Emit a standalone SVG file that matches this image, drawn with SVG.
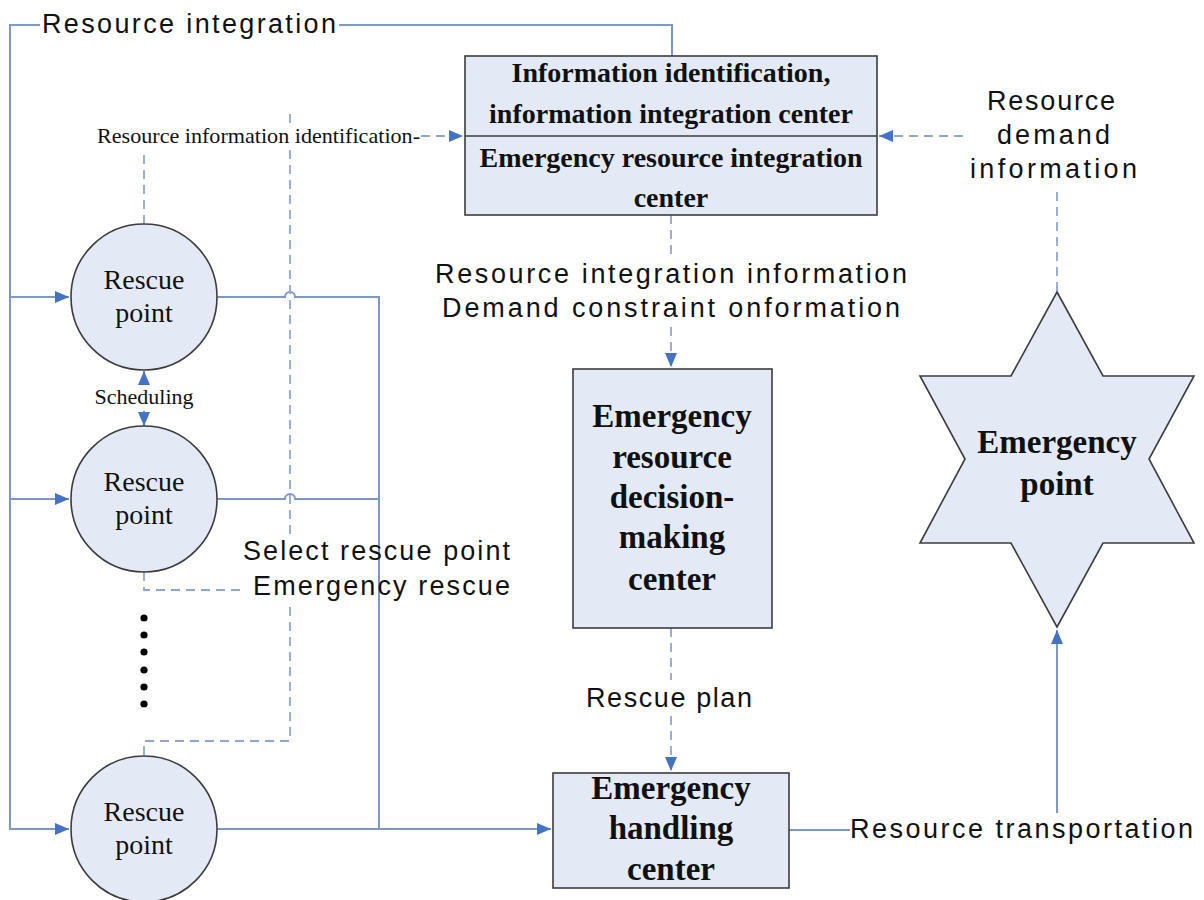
<svg xmlns="http://www.w3.org/2000/svg" width="1204" height="900" viewBox="0 0 1204 900">
<style>
.node{fill:#e4eaf5;stroke:#3c3c3c;stroke-width:1.6}
.serif{font-family:"Liberation Serif","Times New Roman",serif;fill:#111}
.bold{font-weight:bold;font-size:33px;text-anchor:middle}
.bt{font-weight:bold;font-size:28px;text-anchor:middle}
.rp{font-size:28px;text-anchor:middle}
.sm{font-size:22px}
.sans{font-family:"Liberation Sans",Arial,sans-serif;font-size:27px;fill:#111}
.solid{fill:none;stroke:#7d97c9;stroke-width:2}
.dash{fill:none;stroke:#8ea6d4;stroke-width:1.8;stroke-dasharray:9 6}
</style>
<defs>
<marker id="ah" markerUnits="userSpaceOnUse" markerWidth="16" markerHeight="14" refX="14" refY="6" orient="auto">
<path d="M0,0 L14,6 L0,12 Z" fill="#4472c4"/>
</marker>
</defs>
<rect width="1204" height="900" fill="#ffffff"/>

<g id="connectors">
<path class="solid" d="M672,56 V25 H339"/>
<path class="solid" d="M40,25 H10 V829 H69" marker-end="url(#ah)"/>
<path class="solid" d="M10,297 H69" marker-end="url(#ah)"/>
<path class="solid" d="M10,499 H69" marker-end="url(#ah)"/>
<path class="solid" d="M217,297 H285 a5,5 0 0 1 10,0 H379 V829"/>
<path class="solid" d="M217,499 H285 a5,5 0 0 1 10,0 H379"/>
<path class="solid" d="M217,829 H551" marker-end="url(#ah)"/>
<path class="solid" d="M144,385 V371" marker-end="url(#ah)"/>
<path class="solid" d="M144,411 V426" marker-end="url(#ah)"/>
<path class="dash" d="M144,224 V152"/>
<path class="dash" d="M290,114 V124"/>
<path class="dash" d="M290,150 V537"/>
<path class="dash" d="M290,607 V741 H144 V756"/>
<path class="dash" d="M144,572 V590 H245"/>
<path class="dash" d="M421,136 H463" marker-end="url(#ah)"/>
<path class="dash" d="M1057,291 V188"/>
<path class="dash" d="M963,136 H879" marker-end="url(#ah)"/>
<path class="dash" d="M671,215 V255"/>
<path class="dash" d="M671,327 V367" marker-end="url(#ah)"/>
<path class="dash" d="M671,628 V680"/>
<path class="dash" d="M671,716 V771" marker-end="url(#ah)"/>
<path class="solid" d="M789,830 H850"/>
<path class="solid" d="M1057,813 V630" marker-end="url(#ah)"/>
</g>

<g id="labels">
<text class="sans" x="42" y="33" textLength="294" lengthAdjust="spacing">Resource integration</text>
<text class="serif sm" x="97" y="143" textLength="323" lengthAdjust="spacingAndGlyphs">Resource information identification-</text>
<text class="sans" x="987" y="110" textLength="128" lengthAdjust="spacing">Resource</text>
<text class="sans" x="997" y="144" textLength="113" lengthAdjust="spacing">demand</text>
<text class="sans" x="970" y="178" textLength="167" lengthAdjust="spacing">information</text>
<text class="sans" x="435" y="283" textLength="472" lengthAdjust="spacing">Resource integration information</text>
<text class="sans" x="442" y="317" textLength="458" lengthAdjust="spacing">Demand constraint onformation</text>
<text class="serif sm" x="144" y="404" text-anchor="middle">Scheduling</text>
<text class="sans" x="243" y="560" textLength="267" lengthAdjust="spacing">Select rescue point</text>
<text class="sans" x="253" y="595" textLength="257" lengthAdjust="spacing">Emergency rescue</text>
<text class="sans" x="586" y="707" textLength="166" lengthAdjust="spacing">Rescue plan</text>
<text class="sans" x="850" y="838" textLength="343" lengthAdjust="spacing">Resource transportation</text>
</g>

<g id="info-center">
<rect class="node" x="465" y="56" width="412" height="159"/>
<line x1="465" y1="136" x2="877" y2="136" stroke="#3c3c3c" stroke-width="1.6"/>
<text class="serif bt" x="671" y="82">Information identification,</text>
<text class="serif bt" x="671" y="123">information integration center</text>
<text class="serif bt" x="671" y="167">Emergency resource integration</text>
<text class="serif bt" x="671" y="207">center</text>
</g>

<g id="decision-center">
<rect class="node" x="573" y="369" width="199" height="259"/>
<text class="serif bold" x="672" y="427">Emergency</text>
<text class="serif bold" x="672" y="468">resource</text>
<text class="serif bold" x="672" y="508">decision-</text>
<text class="serif bold" x="672" y="548">making</text>
<text class="serif bold" x="672" y="590">center</text>
</g>

<g id="handling-center">
<rect class="node" x="553" y="773" width="236" height="115"/>
<text class="serif bold" x="671" y="799">Emergency</text>
<text class="serif bold" x="671" y="839">handling</text>
<text class="serif bold" x="671" y="880">center</text>
</g>

<g id="emergency-point">
<polygon class="node" points="1057,292 1103,376 1194,376 1149,459 1194,543 1103,543 1057,627 1011,543 920,543 965,459 920,376 1011,376"/>
<text class="serif bold" x="1057" y="453">Emergency</text>
<text class="serif bold" x="1057" y="495">point</text>
</g>

<g id="rescue-point-1">
<circle class="node" cx="144" cy="297" r="73"/>
<text class="serif rp" x="144" y="289">Rescue</text>
<text class="serif rp" x="144" y="322">point</text>
</g>
<g id="rescue-point-2">
<circle class="node" cx="144" cy="499" r="73"/>
<text class="serif rp" x="144" y="491">Rescue</text>
<text class="serif rp" x="144" y="524">point</text>
</g>
<g id="rescue-point-3">
<circle class="node" cx="144" cy="829" r="73"/>
<text class="serif rp" x="144" y="821">Rescue</text>
<text class="serif rp" x="144" y="854">point</text>
</g>

<g id="ellipsis" fill="#000">
<circle cx="144" cy="618" r="3.6"/>
<circle cx="144" cy="635" r="3.6"/>
<circle cx="144" cy="652" r="3.6"/>
<circle cx="144" cy="670" r="3.6"/>
<circle cx="144" cy="687" r="3.6"/>
<circle cx="144" cy="704" r="3.6"/>
</g>
</svg>
